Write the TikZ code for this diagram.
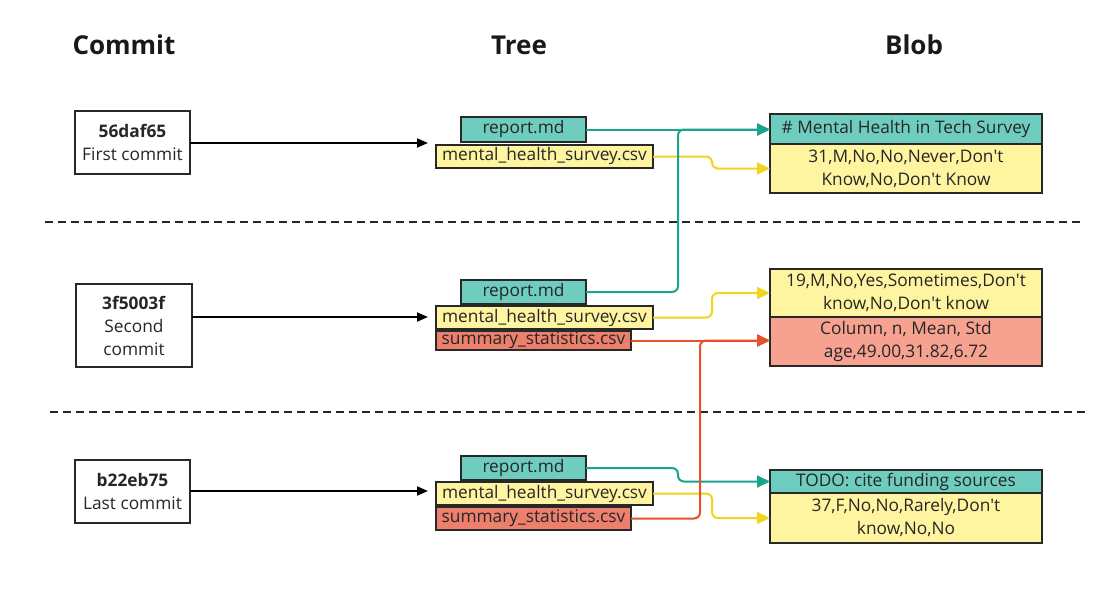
\documentclass[tikz,border=0pt]{standalone}
\usepackage{fontspec}
\setmainfont{Open Sans}
\usetikzlibrary{arrows.meta}

\definecolor{tealfill}{RGB}{110,205,190}
\definecolor{yellowfill}{RGB}{255,245,160}
\definecolor{redfill}{RGB}{236,128,108}
\definecolor{redblob}{RGB}{247,162,145}
\definecolor{tealline}{RGB}{25,165,140}
\definecolor{yellowline}{RGB}{240,212,30}
\definecolor{redline}{RGB}{232,80,45}
\definecolor{edge}{RGB}{40,40,40}

\newcommand\bodyfont{\fontsize{17.3}{23}\selectfont}
\newcommand\headfont{\fontsize{26}{30}\selectfont\bfseries}
\newcommand\apos{\textquotesingle}

\begin{document}
\begin{tikzpicture}[x=1pt,y=-1pt,
  boxbase/.style={draw=edge, line width=1.3, inner sep=0, outer sep=0,
    anchor=north west, font=\bodyfont, text=black!85},
  commitbox/.style={boxbase, fill=white, align=center},
  tealbox/.style={boxbase, fill=tealfill},
  yellowbox/.style={boxbase, fill=yellowfill},
  redbox/.style={boxbase, fill=redfill},
  blobtext/.style={align=center},
  heading/.style={font=\headfont, text=black!90},
  commitarrow/.style={line width=1.8, -{Triangle[length=11pt,width=9pt]}},
  link/.style={line width=2, rounded corners=6, -{Triangle[length=13pt,width=12pt]}},
  divider/.style={line width=2.6, dash pattern=on 8pt off 5pt, black!85}
]
\useasboundingbox (0,0) rectangle (1120,590);

% column headings
\node[heading] (hc) at (124,45) {Commit};
\node[heading] (ht) at (519,45) {Tree};
\node[heading] (hb) at (914,45) {Blob};

% section dividers
\coordinate (d1a) at (45,222);
\coordinate (d1b) at (1082,222);
\coordinate (d2a) at (50,412);
\coordinate (d2b) at (1088,412);
\draw[divider] (d1a) -- (d1b);
\draw[divider] (d2a) -- (d2b);

% commits
\node[commitbox, minimum width=115, minimum height=63] (c1) at (75,111)
  {\textbf{56daf65}\\First commit};
\node[commitbox, minimum width=116, minimum height=83] (c2) at (76,284)
  {\textbf{3f5003f}\\Second\\commit};
\node[commitbox, minimum width=115, minimum height=63] (c3) at (75,460)
  {\textbf{b22eb75}\\Last commit};

% trees
\node[tealbox, minimum width=125, minimum height=25] (r1) at (461,117) {report.md};
\node[yellowbox, minimum width=217, minimum height=23] (m1) at (436,145) {mental\_health\_survey.csv};

\node[tealbox, minimum width=125, minimum height=24] (r2) at (461,280) {report.md};
\node[yellowbox, minimum width=217, minimum height=23] (m2) at (436,306) {mental\_health\_survey.csv};
\node[redbox, minimum width=195, minimum height=19] (s2) at (436,331) {summary\_statistics.csv};

\node[tealbox, minimum width=125, minimum height=24] (r3) at (461,456) {report.md};
\node[yellowbox, minimum width=217, minimum height=23] (m3) at (436,482) {mental\_health\_survey.csv};
\node[redbox, minimum width=195, minimum height=23] (s3) at (436,507) {summary\_statistics.csv};

% blobs
\node[tealbox, minimum width=272, minimum height=30] (b1h) at (770,114) {\# Mental Health in Tech Survey};
\node[yellowbox, blobtext, minimum width=272, minimum height=49] (b1y) at (770,144)
  {31,M,No,No,Never,Don\apos t\\Know,No,Don\apos t Know};

\node[yellowbox, blobtext, minimum width=272, minimum height=48] (b2y) at (770,269)
  {19,M,No,Yes,Sometimes,Don\apos t\\know,No,Don\apos t know};
\node[boxbase, fill=redblob, blobtext, minimum width=272, minimum height=49] (b2r) at (770,317)
  {Column, n, Mean, Std\\age,49.00,31.82,6.72};

\node[tealbox, minimum width=272, minimum height=23] (b3h) at (770,470) {TODO: cite funding sources};
\node[yellowbox, blobtext, minimum width=272, minimum height=50] (b3y) at (770,493)
  {37,F,No,No,Rarely,Don\apos t\\know,No,No};

% entry points of the tree groups
\coordinate (t1in) at (428,143);
\coordinate (t2in) at (428,317);
\coordinate (t3in) at (428,491);

% commit -> tree
\draw[commitarrow] (c1.east |- t1in) -- (t1in);
\draw[commitarrow] (c2.east |- t2in) -- (t2in);
\draw[commitarrow] (c3.east |- t3in) -- (t3in);

% vertical runs of the links
\coordinate (tbus) at (678,0);
\coordinate (ybus) at (712,0);
\coordinate (rbus) at (700,0);

% tree -> blob
\draw[link, yellowline] (m1.east) -| (ybus |- b1y.west) -- (b1y.west);
\draw[link, yellowline] (m2.east) -| (ybus |- b2y.west) -- (b2y.west);
\draw[link, yellowline] (m3.east) -| (ybus |- b3y.west) -- (b3y.west);

\draw[link, tealline] (r1.east) -- (r1.east -| b1h.west);
\draw[link, tealline] (r2.east) -| (tbus |- r1.east) -- (r1.east -| b1h.west);
\draw[link, tealline] (r3.east) -| (tbus |- b3h.west) -- (b3h.west);

\draw[link, redline] (s2.east) -- (s2.east -| b2r.west);
\draw[link, redline] (s3.east) -| (rbus |- s2.east) -- (s2.east -| b2r.west);
\end{tikzpicture}
\end{document}
